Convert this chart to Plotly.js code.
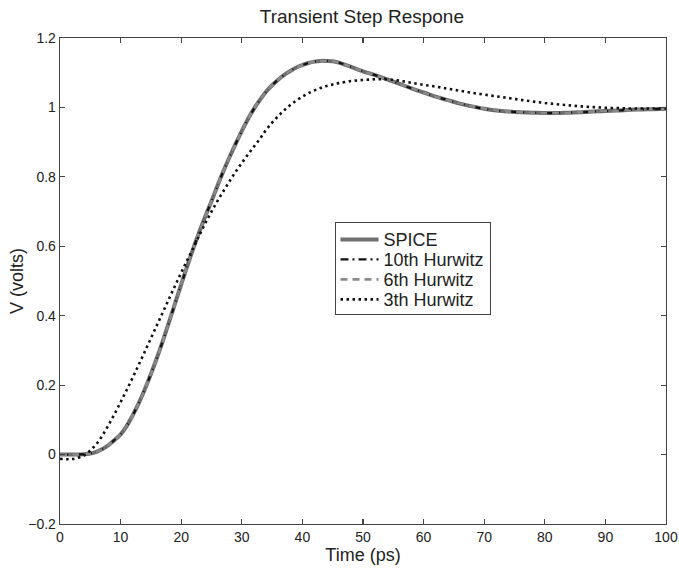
<!DOCTYPE html>
<html>
<head>
<meta charset="utf-8">
<script src="https://cdn.plot.ly/plotly-3.0.1.min.js"></script>
<style>html,body{margin:0;padding:0;background:#fff;}#chart{width:679px;height:568px;}</style>
</head>
<body>
<div id="chart"></div>
<script>
// time axis (ps)
const timePs = [0,2,4,5,6,7,8,9,10,11,12,13,14,15,16,17,18,19,20,21,22,23,24,25,26,27,28,29,30,31,32,33,34,35,36,37,38,39,40,41,42,43,44,45,46,48,50,52,54,56,58,60,62,64,66,68,70,72,74,76,78,80,82,84,86,88,90,92,94,96,98,100];

const spice = [0,0,0.001,0.003,0.008,0.016,0.027,0.042,0.058,0.082,0.113,0.148,0.188,0.232,0.279,0.329,0.382,0.436,0.49,0.543,0.594,0.642,0.687,0.73,0.775,0.818,0.858,0.896,0.932,0.966,0.996,1.022,1.045,1.064,1.08,1.094,1.105,1.115,1.122,1.128,1.132,1.134,1.134,1.133,1.129,1.117,1.104,1.093,1.081,1.068,1.055,1.043,1.031,1.021,1.011,1.003,0.996,0.991,0.988,0.986,0.985,0.984,0.984,0.985,0.986,0.988,0.99,0.991,0.993,0.994,0.995,0.996];

const hurwitz10 = [0,0,0.001,0.003,0.008,0.016,0.027,0.042,0.058,0.082,0.113,0.148,0.188,0.232,0.279,0.329,0.382,0.436,0.49,0.543,0.594,0.642,0.687,0.73,0.775,0.818,0.858,0.896,0.932,0.966,0.996,1.022,1.045,1.064,1.08,1.094,1.105,1.115,1.122,1.128,1.132,1.134,1.134,1.133,1.129,1.117,1.104,1.093,1.081,1.068,1.055,1.043,1.031,1.021,1.011,1.003,0.996,0.991,0.988,0.986,0.985,0.984,0.984,0.985,0.986,0.988,0.99,0.991,0.993,0.994,0.995,0.996];

const hurwitz6 = [0,0,0.001,0.003,0.008,0.016,0.027,0.042,0.058,0.082,0.113,0.148,0.188,0.232,0.279,0.329,0.382,0.436,0.49,0.543,0.594,0.642,0.687,0.73,0.775,0.818,0.858,0.896,0.932,0.966,0.996,1.022,1.045,1.064,1.08,1.094,1.105,1.115,1.122,1.128,1.132,1.134,1.134,1.133,1.129,1.117,1.104,1.093,1.081,1.068,1.055,1.043,1.031,1.021,1.011,1.003,0.996,0.991,0.988,0.986,0.985,0.984,0.984,0.985,0.986,0.988,0.99,0.991,0.993,0.994,0.995,0.996];

const hurwitz3 = [-0.012,-0.013,-0.002,0.012,0.03,0.055,0.085,0.117,0.151,0.186,0.222,0.259,0.297,0.335,0.373,0.411,0.449,0.487,0.524,0.56,0.595,0.632,0.667,0.7,0.731,0.76,0.788,0.815,0.84,0.864,0.887,0.91,0.935,0.956,0.975,0.992,1.007,1.02,1.031,1.041,1.049,1.056,1.062,1.066,1.07,1.076,1.079,1.081,1.081,1.077,1.071,1.065,1.06,1.054,1.048,1.042,1.037,1.032,1.027,1.022,1.017,1.013,1.009,1.006,1.003,1.001,0.999,0.998,0.997,0.997,0.997,0.997];

const seriesNames = ["SPICE","10th Hurwitz","6th Hurwitz","3th Hurwitz"];
const xTicks = [0,10,20,30,40,50,60,70,80,90,100];
const yTicks = [-0.2,0,0.2,0.4,0.6,0.8,1,1.2];

const font = "Liberation Sans, Arial, Helvetica, sans-serif";

const traces = [
  {x: timePs, y: spice, name: seriesNames[0], mode: "lines", line: {color: "#6e6e6e", width: 4, shape: "spline"}},
  {x: timePs, y: hurwitz10, name: seriesNames[1], mode: "lines", line: {color: "#111", width: 2.2, dash: "8px,4px,2px,4px", shape: "spline"}},
  {x: timePs, y: hurwitz6, name: seriesNames[2], mode: "lines", line: {color: "#8a8a8a", width: 2.6, dash: "7px,5px", shape: "spline"}},
  {x: timePs, y: hurwitz3, name: seriesNames[3], mode: "lines", line: {color: "#111", width: 2.6, dash: "2.5px,3.5px", shape: "spline"}}
];

const axisCommon = {
  showline: true, linecolor: "#444", linewidth: 1.3, mirror: "ticks",
  ticks: "inside", ticklen: 5, tickcolor: "#444", tickwidth: 1.2,
  showgrid: false, zeroline: false,
  tickfont: {family: font, size: 14, color: "#222"}
};

const layout = {
  width: 679, height: 568,
  margin: {l: 60, r: 13, t: 38, b: 44},
  paper_bgcolor: "#fff", plot_bgcolor: "#fff",
  title: {text: "Transient Step Respone", font: {family: font, size: 19, color: "#222"}, x: 0.533, xanchor: "center", y: 0.972, yanchor: "middle"},
  xaxis: Object.assign({}, axisCommon, {range: [0, 100], tickvals: xTicks,
    title: {text: "Time (ps)", font: {family: font, size: 18, color: "#222"}, standoff: 0}}),
  yaxis: Object.assign({}, axisCommon, {range: [-0.2, 1.2], tickvals: yTicks,
    title: {text: "V (volts)", font: {family: font, size: 18, color: "#222"}, standoff: 0}}),
  showlegend: true,
  legend: {x: 0.453, y: 0.621, xanchor: "left", yanchor: "top", bgcolor: "#fff",
    bordercolor: "#444", borderwidth: 1, font: {family: font, size: 18, color: "#222"},
    tracegroupgap: 0, itemwidth: 38}
};

Plotly.newPlot("chart", traces, layout, {displayModeBar: false, staticPlot: true}).then(function (gd) {
  // tighten legend row spacing to match the compact reference legend
  const legend = gd.querySelector(".legend");
  if (!legend) return;
  const items = legend.querySelectorAll(".traces");
  const re = /translate\(\s*([-\d.e]+)[\s,]+([-\d.e]+)\s*\)/;
  const pos = [];
  items.forEach(function (g) {
    const m = re.exec(g.getAttribute("transform") || "");
    pos.push(m ? [parseFloat(m[1]), parseFloat(m[2])] : null);
  });
  if (pos.some(function (p) { return !p; }) || pos.length < 2) return;
  const rowGap = 20;
  const firstY = pos[0][1] - 2;
  items.forEach(function (g, i) {
    g.setAttribute("transform", "translate(" + pos[i][0] + "," + (firstY + i * rowGap) + ")");
  });
  const shrink = (pos[pos.length - 1][1] - (firstY + (pos.length - 1) * rowGap)) + 4;
  const bg = legend.querySelector("rect.bg");
  if (bg) {
    const h = parseFloat(bg.getAttribute("height"));
    bg.setAttribute("height", h - shrink);
  }
});
</script>
</body>
</html>
